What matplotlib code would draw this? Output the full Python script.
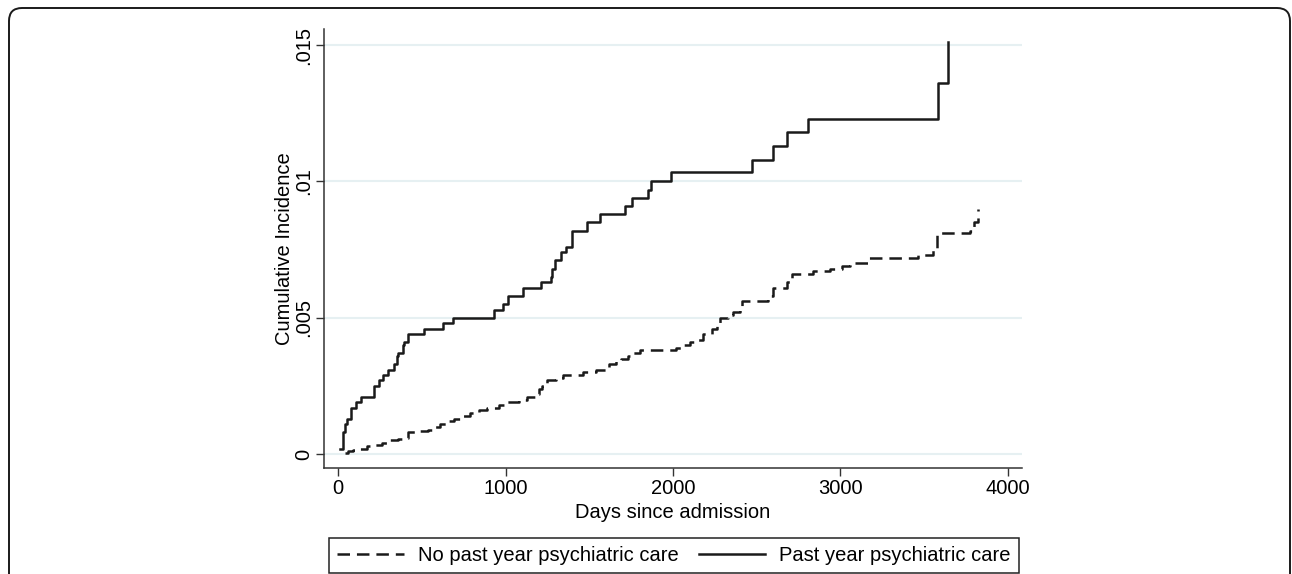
import matplotlib
matplotlib.use("Agg")
import matplotlib.pyplot as plt
from matplotlib.patches import FancyBboxPatch
from matplotlib.transforms import IdentityTransform

plt.rcParams['font.family'] = ['Liberation Sans', 'DejaVu Sans']
plt.rcParams['lines.scale_dashes'] = False

# Past year psychiatric care (solid)
past_days = [12, 30, 42, 55, 78, 107, 137, 215, 245, 269, 299, 334, 352, 358, 388, 394, 418,
             513, 627, 687, 931, 985, 1015, 1104, 1212, 1272, 1278, 1296, 1331, 1361, 1397,
             1487, 1564, 1713, 1755, 1851, 1869, 1988, 2472, 2597, 2681, 2806, 3582, 3642]
past_ci = [0.0002, 0.0008, 0.0011, 0.0013, 0.0017, 0.0019, 0.0021, 0.0025, 0.0027, 0.0029,
           0.0031, 0.0033, 0.0036, 0.0037, 0.0040, 0.0041, 0.0044, 0.0046, 0.0048, 0.0050,
           0.0053, 0.0055, 0.0058, 0.0061, 0.0063, 0.0065, 0.0068, 0.0071, 0.0074, 0.0076,
           0.0082, 0.0085, 0.0088, 0.0091, 0.0094, 0.0097, 0.0100, 0.01034, 0.0108, 0.0113,
           0.0118, 0.0123, 0.0136, 0.0151]

# No past year psychiatric care (dashed)
nopast_days = [42, 60, 90, 130, 170, 220, 260, 310, 360, 410, 418, 480, 540, 580, 610, 650,
               690, 740, 790, 840, 890, 960, 1010, 1080, 1130, 1180, 1200, 1215, 1250, 1300,
               1345, 1460, 1540, 1600, 1620, 1660, 1690, 1730, 1760, 1800, 2020, 2060, 2100,
               2150, 2180, 2230, 2260, 2280, 2330, 2360, 2400, 2410, 2570, 2597, 2680, 2710,
               2836, 2940, 3009, 3057, 3164, 3463, 3552, 3576, 3773, 3800, 3821]
nopast_ci = [0.00005, 0.0001, 0.00015, 0.0002, 0.0003, 0.00035, 0.0004, 0.0005, 0.00055,
             0.0006, 0.0008, 0.00085, 0.0009, 0.0010, 0.0011, 0.0012, 0.0013, 0.0014, 0.0015,
             0.0016, 0.0017, 0.0018, 0.0019, 0.0020, 0.0021, 0.0022, 0.0024, 0.0025, 0.0027,
             0.0028, 0.0029, 0.0030, 0.0031, 0.0032, 0.0033, 0.0034, 0.0035, 0.0036, 0.0037,
             0.0038, 0.0039, 0.0040, 0.0041, 0.0042, 0.0044, 0.0046, 0.0048, 0.0050, 0.0051,
             0.0052, 0.0054, 0.0056, 0.0058, 0.0061, 0.0063, 0.0066, 0.0067, 0.0068, 0.0069,
             0.0070, 0.0072, 0.0073, 0.0075, 0.0081, 0.0082, 0.0085, 0.0090]

yticks = [0, 0.005, 0.01, 0.015]
ytick_labels = ['0', '.005', '.01', '.015']
xticks = [0, 1000, 2000, 3000, 4000]
xtick_labels = ['0', '1000', '2000', '3000', '4000']

FS = 14.5
W, H = 1292, 574
fig = plt.figure(figsize=(W / 100, H / 100), dpi=100)
fig.patch.set_facecolor('white')

# outer rounded border (pixel coordinates)
border = FancyBboxPatch((9, -100), 1290 - 9, H - 8 + 100,
                        boxstyle="round,pad=0,rounding_size=13",
                        fill=False, edgecolor='#1a1a1a', linewidth=1.4)
border.set_transform(IdentityTransform())
fig.patches.append(border)

ax = fig.add_axes([324 / W, 1 - 468 / H, (1022 - 324) / W, (468 - 29) / H])
ax.set_xlim(-84, 4084)
ax.set_ylim(-0.00051, 0.01559)

for yv in yticks:
    ax.axhline(yv, color='#e6f0f2', linewidth=1.5, zorder=0)

ln_no, = ax.step(nopast_days, nopast_ci, where='post', color='#1a1a1a', linewidth=1.8,
                 linestyle=(0, (9, 5)), label='No past year psychiatric care')
ln_p, = ax.step(past_days, past_ci, where='post', color='#1a1a1a', linewidth=1.8,
                label='Past year psychiatric care')

for s in ['top', 'right']:
    ax.spines[s].set_visible(False)
for s in ['left', 'bottom']:
    ax.spines[s].set_color('#333333')
    ax.spines[s].set_linewidth(1.1)

ax.set_yticks(yticks)
ax.set_yticklabels(ytick_labels, rotation=90, va='center', fontsize=FS)
ax.set_xticks(xticks)
ax.set_xticklabels(xtick_labels, fontsize=FS)
ax.tick_params(axis='both', length=5.5, width=1, color='#333333', pad=2.5)

ax.set_xlabel('Days since admission', fontsize=FS, va='center')
ax.xaxis.set_label_coords(0.5, (468 - 512) / 439)
ax.set_ylabel('Cumulative Incidence', fontsize=FS, va='center')
ax.yaxis.set_label_coords((285 - 324) / 698, 0.5)

leg = fig.legend(handles=[ln_no, ln_p], loc='lower center', ncol=2,
                 bbox_to_anchor=(674 / W, 1 - 573 / H),
                 fancybox=False, edgecolor='#222222', fontsize=FS,
                 handlelength=3.3, handletextpad=0.7, columnspacing=1.0,
                 borderaxespad=0, borderpad=0.4, framealpha=1)
leg.get_frame().set_linewidth(1.1)

fig.savefig('out.png', dpi=100, facecolor='white')
